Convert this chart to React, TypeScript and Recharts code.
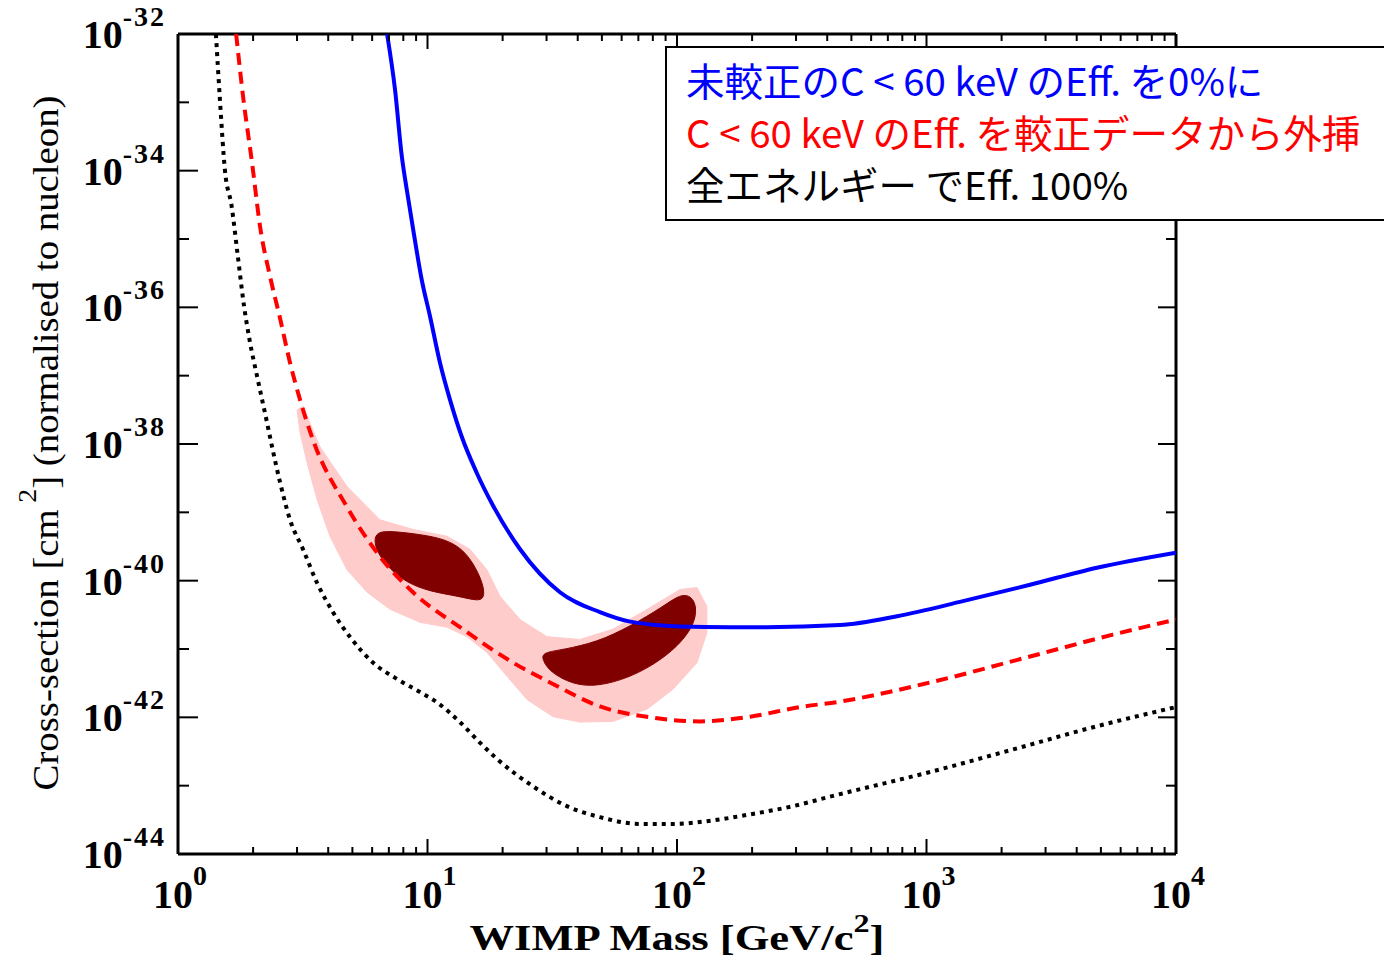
import { ComposedChart, Scatter, XAxis, YAxis, Legend } from 'recharts';

// values are log10(WIMP mass / GeV c^-2) and log10(cross-section / cm^2)

// blue solid: efficiency 0% below C < 60 keV
const blueLogM = [0.838, 0.87, 0.897, 0.917, 0.943, 0.977, 1.01, 1.05, 1.09, 1.137, 1.197, 1.264, 1.371, 1.531, 1.691, 1.812, 1.892, 2.012, 2.212, 2.361, 2.653, 2.882, 3.146, 3.415, 3.683, 4.0];
const blueLogS = [-32.0, -32.82, -33.79, -34.28, -34.87, -35.6, -36.13, -36.81, -37.35, -37.89, -38.42, -38.91, -39.54, -40.17, -40.46, -40.6, -40.64, -40.67, -40.68, -40.68, -40.65, -40.52, -40.3, -40.06, -39.81, -39.59];

// red dashed: efficiency extrapolated from calibration
const redLogM = [0.233, 0.261, 0.297, 0.329, 0.369, 0.409, 0.449, 0.489, 0.541, 0.677, 0.81, 0.942, 1.142, 1.343, 1.491, 1.691, 1.892, 2.092, 2.293, 2.493, 2.653, 3.014, 3.415, 3.747, 4.0];
const redLogS = [-32.0, -32.92, -33.89, -34.82, -35.55, -36.16, -36.81, -37.35, -37.94, -38.92, -39.65, -40.17, -40.71, -41.2, -41.49, -41.84, -42.0, -42.06, -41.99, -41.85, -41.77, -41.49, -41.11, -40.79, -40.57];

// black dotted: 100% efficiency everywhere
const blackLogM = [0.152, 0.168, 0.188, 0.215, 0.24, 0.265, 0.289, 0.317, 0.357, 0.377, 0.409, 0.449, 0.501, 0.557, 0.621, 0.697, 0.782, 0.878, 0.97, 1.038, 1.13, 1.21, 1.279, 1.423, 1.559, 1.691, 1.852, 1.984, 2.12, 2.293, 2.465, 2.625, 3.014, 3.347, 3.683, 4.0];
const blackLogS = [-32.0, -32.96, -33.99, -34.52, -35.26, -35.99, -36.52, -37.01, -37.69, -38.04, -38.56, -39.11, -39.54, -40.03, -40.46, -40.86, -41.2, -41.44, -41.63, -41.78, -42.07, -42.37, -42.61, -43.01, -43.3, -43.46, -43.56, -43.56, -43.52, -43.42, -43.3, -43.15, -42.8, -42.47, -42.13, -41.85];

// pink allowed region (outline, clockwise)
const pinkLogM = [0.477, 0.501, 0.569, 0.677, 0.81, 0.942, 1.078, 1.17, 1.238, 1.291, 1.371, 1.479, 1.611, 1.743, 1.88, 2.012, 2.08, 2.12, 2.12, 2.08, 1.984, 1.88, 1.743, 1.611, 1.503, 1.399, 1.319, 1.238, 1.158, 1.078, 0.97, 0.85, 0.758, 0.677, 0.609, 0.557, 0.517, 0.489];
const pinkLogS = [-37.5, -37.45, -38.04, -38.62, -39.11, -39.25, -39.35, -39.54, -39.84, -40.23, -40.57, -40.82, -40.86, -40.71, -40.42, -40.13, -40.1, -40.38, -40.76, -41.2, -41.59, -41.88, -42.06, -42.07, -41.99, -41.74, -41.4, -41.05, -40.82, -40.68, -40.61, -40.42, -40.17, -39.84, -39.35, -38.81, -38.27, -37.83];

// dark red regions
const blob1LogM = [0.798, 0.838, 0.942, 1.05, 1.13, 1.182, 1.222, 1.23, 1.202, 1.13, 1.01, 0.918, 0.85, 0.798, 0.786];
const blob1LogS = [-39.3, -39.27, -39.31, -39.37, -39.5, -39.73, -40.03, -40.25, -40.3, -40.23, -40.16, -40.03, -39.84, -39.59, -39.4];
const blob2LogM = [1.463, 1.543, 1.679, 1.812, 1.944, 2.024, 2.072, 2.08, 2.04, 1.944, 1.812, 1.679, 1.583, 1.491, 1.459];
const blob2LogS = [-41.05, -41.01, -40.9, -40.67, -40.38, -40.17, -40.27, -40.52, -40.82, -41.15, -41.42, -41.55, -41.52, -41.34, -41.15];

const xDecades = [0, 1, 2, 3, 4];
const yDecades = [-44, -43, -42, -41, -40, -39, -38, -37, -36, -35, -34, -33, -32];
const minorFactors = [2, 3, 4, 5, 6, 7, 8, 9];

const legendLabels = [
  '未較正のC < 60 keV のEff. を0%に',
  'C < 60 keV のEff. を較正データから外挿',
  '全エネルギー でEff. 100%',
];
const legendColors = ['#0000ff', '#ff0000', '#000000'];

const toPoints = (xs: number[], ys: number[]) => xs.map((x, i) => ({ x, y: ys[i] }));

const blueData = toPoints(blueLogM, blueLogS);
const redData = toPoints(redLogM, redLogS);
const blackData = toPoints(blackLogM, blackLogS);
const pinkData = toPoints(pinkLogM, pinkLogS);
const blob1Data = toPoints(blob1LogM, blob1LogS);
const blob2Data = toPoints(blob2LogM, blob2LogS);

const xTicks = xDecades.flatMap(d => (d < 4 ? [d, ...minorFactors.map(k => d + Math.log10(k))] : [d]));

const SERIF = '"Liberation Serif", "Times New Roman", serif';

function AxisTick(props: any) {
  const { x, y, payload, side } = props;
  const v = payload.value;
  if (side === 'bottom' || side === 'top') {
    const major = Math.abs(v - Math.round(v)) < 1e-6;
    const len = major ? 15 : 7;
    const dir = side === 'bottom' ? -1 : 1;
    return (
      <g>
        <line x1={x} y1={y} x2={x} y2={y + dir * len} stroke="#000" strokeWidth={2} />
        {side === 'bottom' && major && (
          <text x={x + 2} y={y + 54} textAnchor="middle" fontFamily={SERIF} fontWeight="bold" fontSize={40} fill="#000">
            10<tspan dy={-23} fontSize={28}>{Math.round(v)}</tspan>
          </text>
        )}
      </g>
    );
  }
  const major = Math.round(v) % 2 === 0;
  const len = side === 'left' ? (major ? 20 : 11) : major ? 18 : 10;
  const dir = side === 'left' ? 1 : -1;
  return (
    <g>
      <line x1={x} y1={y} x2={x + dir * len} y2={y} stroke="#000" strokeWidth={2} />
      {side === 'left' && major && (
        <text x={x - 12} y={y + 14} textAnchor="end" fontFamily={SERIF} fontWeight="bold" fontSize={40} fill="#000">
          10<tspan dy={-22} fontSize={28} letterSpacing={2}>{Math.round(v)}</tspan>
        </text>
      )}
    </g>
  );
}

const xTitle = (p: any) => {
  const vb = p.viewBox;
  return (
    <text x={vb.x + vb.width / 2} y={vb.y + 96} textAnchor="middle" fontFamily={SERIF} fontWeight="bold" fontSize={36} fill="#000" textLength={415} lengthAdjust="spacingAndGlyphs">
      WIMP Mass [GeV/c<tspan dy={-18} fontSize={26}>2</tspan><tspan dy={18}>]</tspan>
    </text>
  );
};

const yTitle = (p: any) => {
  const vb = p.viewBox;
  const cx = 58;
  const cy = vb.y + vb.height / 2 - 1;
  return (
    <text x={cx} y={cy} transform={`rotate(-90, ${cx}, ${cy})`} textAnchor="middle" fontFamily={SERIF} fontSize={36} fill="#000" textLength={695} lengthAdjust="spacingAndGlyphs">
      Cross-section [cm<tspan dx={6} dy={-22} fontSize={26}>2</tspan><tspan dy={22}>] (normalised to nucleon)</tspan>
    </text>
  );
};

const renderLegend = () => (
  <div
    style={{
      boxSizing: 'border-box',
      width: 740,
      height: 175,
      border: '2px solid #000',
      background: '#fff',
      padding: '5px 0 0 19px',
      fontFamily: '"Noto Sans CJK JP", sans-serif',
      fontSize: 38.5,
    }}
  >
    {legendLabels.map((label, i) => (
      <div key={label} style={{ color: legendColors[i], height: 52, lineHeight: '52px', whiteSpace: 'nowrap' }}>
        {label}
      </div>
    ))}
  </div>
);

const hidden = () => <g />;

const areaProps = (color: string) => ({ fill: color, stroke: color, strokeWidth: 1 });

export default function App() {
  return (
    <div style={{ position: 'absolute', left: 0, top: 0, width: 1384, height: 960, overflow: 'hidden', background: '#fff' }}>
      <ComposedChart width={1384} height={960} margin={{ top: 33, right: 207, bottom: 105, left: 177 }}>
        <XAxis
          xAxisId="b"
          type="number"
          dataKey="x"
          domain={[0, 4]}
          ticks={xTicks}
          interval={0}
          height={1}
          tickSize={0}
          tickMargin={0}
          tickLine={false}
          allowDataOverflow
          axisLine={{ stroke: '#000', strokeWidth: 3 }}
          tick={(p: any) => <AxisTick {...p} side="bottom" />}
          label={xTitle}
        />
        <XAxis
          xAxisId="t"
          orientation="top"
          type="number"
          dataKey="x"
          domain={[0, 4]}
          ticks={xTicks}
          interval={0}
          height={1}
          tickSize={0}
          tickMargin={0}
          tickLine={false}
          allowDataOverflow
          axisLine={{ stroke: '#000', strokeWidth: 3 }}
          tick={(p: any) => <AxisTick {...p} side="top" />}
        />
        <YAxis
          yAxisId="l"
          type="number"
          dataKey="y"
          domain={[-44, -32]}
          ticks={yDecades}
          interval={0}
          width={1}
          tickSize={0}
          tickMargin={0}
          tickLine={false}
          allowDataOverflow
          axisLine={{ stroke: '#000', strokeWidth: 3 }}
          tick={(p: any) => <AxisTick {...p} side="left" />}
          label={yTitle}
        />
        <YAxis
          yAxisId="r"
          orientation="right"
          type="number"
          dataKey="y"
          domain={[-44, -32]}
          ticks={yDecades}
          interval={0}
          width={1}
          tickSize={0}
          tickMargin={0}
          tickLine={false}
          allowDataOverflow
          axisLine={{ stroke: '#000', strokeWidth: 3 }}
          tick={(p: any) => <AxisTick {...p} side="right" />}
        />
        <Scatter xAxisId="b" yAxisId="l" data={pinkData} fill="#ffcccc" line={areaProps('#ffcccc')} lineType="joint" lineJointType="linearClosed" shape={hidden} isAnimationActive={false} />
        <Scatter xAxisId="b" yAxisId="l" data={blob1Data} fill="#800000" line={areaProps('#800000')} lineType="joint" lineJointType="basisClosed" shape={hidden} isAnimationActive={false} />
        <Scatter xAxisId="b" yAxisId="l" data={blob2Data} fill="#800000" line={areaProps('#800000')} lineType="joint" lineJointType="basisClosed" shape={hidden} isAnimationActive={false} />
        <Scatter
          xAxisId="b"
          yAxisId="l"
          data={blackData}
          fill="#000"
          line={{ stroke: '#000', strokeWidth: 4, strokeDasharray: '4 5', fill: 'none' }}
          lineType="joint"
          lineJointType="monotoneX"
          shape={hidden}
          isAnimationActive={false}
        />
        <Scatter
          xAxisId="b"
          yAxisId="l"
          data={redData}
          fill="#ff0000"
          line={{ stroke: '#ff0000', strokeWidth: 4, strokeDasharray: '12 7', fill: 'none' }}
          lineType="joint"
          lineJointType="monotoneX"
          shape={hidden}
          isAnimationActive={false}
        />
        <Scatter
          xAxisId="b"
          yAxisId="l"
          data={blueData}
          fill="#0000ff"
          line={{ stroke: '#0000ff', strokeWidth: 4, fill: 'none' }}
          lineType="joint"
          lineJointType="monotoneX"
          shape={hidden}
          isAnimationActive={false}
        />
        <Legend
          layout="horizontal"
          verticalAlign="middle"
          align="center"
          content={renderLegend}
          wrapperStyle={{ top: 46, left: 665, width: 740, height: 175 }}
        />
      </ComposedChart>
    </div>
  );
}
